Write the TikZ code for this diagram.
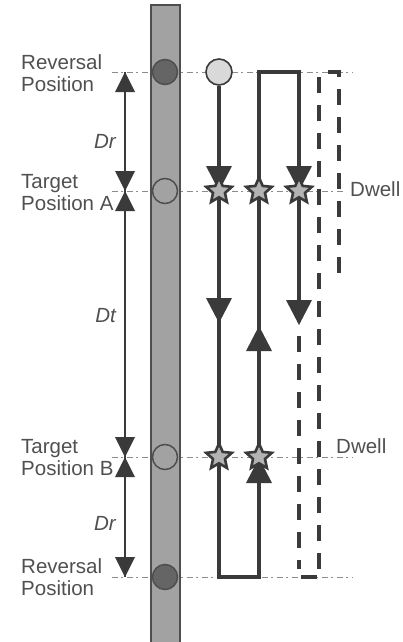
\documentclass[tikz,border=0pt]{standalone}
\usepackage{fontspec}
\setmainfont{Liberation Sans}
\usetikzlibrary{shapes.geometric}

\definecolor{ink}{HTML}{3A3A3A}
\definecolor{txt}{HTML}{505050}
\definecolor{barfill}{HTML}{A2A2A2}
\definecolor{barline}{HTML}{4E4E4E}
\definecolor{darkdot}{HTML}{656565}
\definecolor{lightdot}{HTML}{D9D9D9}
\definecolor{starfill}{HTML}{B3B3B3}
\definecolor{guide}{HTML}{8C8C8C}

\tikzset{
  % filled triangular heads, tip at the pic origin
  dimdown/.pic={\fill[ink] (-10,-20) -- (10,-20) -- (0,0) -- cycle;},
  dimup/.pic={\fill[ink] (-10,20) -- (10,20) -- (0,0) -- cycle;},
  flowdown/.pic={\fill[ink] (-13,-25) -- (13,-25) -- (0,0) -- cycle;},
  flowup/.pic={\fill[ink] (-13,25) -- (13,25) -- (0,0) -- cycle;},
}

\begin{document}
\begin{tikzpicture}[x=1pt,y=-1pt,
  lbl/.style={anchor=base west, text=txt, inner sep=0pt,
    font=\fontsize{20.5}{22}\selectfont},
  dimlbl/.style={anchor=base east, text=txt, inner sep=0pt,
    font=\fontsize{20.5}{22}\selectfont\itshape},
  guideline/.style={draw=guide, line width=0.8pt,
    dash pattern=on 6pt off 3pt on 2pt off 4pt},
  rodbar/.style={fill=barfill, draw=barline, line width=2.8pt},
  revdot/.style={circle, minimum size=25pt, inner sep=0pt,
    fill=darkdot, draw=barline, line width=1.5pt},
  tgtdot/.style={circle, minimum size=25pt, inner sep=0pt,
    fill=barfill, draw=barline, line width=1.5pt},
  startdot/.style={circle, minimum size=26pt, inner sep=0pt,
    fill=lightdot, draw=ink, line width=1.6pt},
  dwellstar/.style={star, star points=5, star point ratio=2.15,
    minimum size=27pt, inner sep=0pt, fill=starfill, draw=ink,
    line width=2.6pt},
  dimline/.style={draw=ink, line width=1.8pt},
  flow/.style={draw=ink, line width=3.3pt},
  flowdash/.style={draw=ink, line width=3.6pt, dash pattern=on 16pt off 12pt},
]
\useasboundingbox (0,0) rectangle (403,642);

% horizontal reference levels
\draw[guideline] (112,72) -- (353,72);
\draw[guideline] (112,191) -- (343,191);
\draw[guideline] (112,457) -- (353,457);
\draw[guideline] (112,577) -- (353,577);

% the rod
\draw[rodbar] (151,5) rectangle (180,660);
\node[revdot] (rodrevtop) at (165,72) {};
\node[tgtdot] (rodtgta) at (165,191) {};
\node[tgtdot] (rodtgtb) at (165,457) {};
\node[revdot] (rodrevbot) at (165,577) {};

% dimension line with its heads
\coordinate (dtop) at (125,72);
\coordinate (da) at (125,191);
\coordinate (db) at (125,457);
\coordinate (dbot) at (125,577);
\draw[dimline] (dtop) -- (dbot);
\pic at (dtop) {dimup};
\pic at (da) {dimdown};
\pic at (da) {dimup};
\pic at (db) {dimdown};
\pic at (db) {dimup};
\pic at (dbot) {dimdown};

% motion path
\node[startdot] (start) at (219,72) {};
\coordinate (c1b) at (219,577);
\coordinate (c2b) at (259,577);
\coordinate (c2t) at (259,72);
\coordinate (c3t) at (299,72);
\coordinate (c3m) at (299,322);
\draw[flow] (start.south) -- (c1b) -- (c2b) -- (c2t) -- (c3t) -- (c3m);

% continuation, dashed
\coordinate (c3d) at (299,336);
\coordinate (c3e) at (299,569);
\coordinate (c4s) at (301,577);
\coordinate (c4e) at (317,577);
\coordinate (c4b) at (319,569);
\coordinate (c4t) at (319,72);
\coordinate (c5s) at (328,72);
\coordinate (c5t) at (339,72);
\coordinate (c5e) at (339,282);
\draw[flowdash] (c3d) -- (c3e);
\draw[ink, line width=3.6pt] (c4s) -- (c4e);
\draw[flowdash] (c4b) -- (c4t);
\draw[flowdash] (c5s) -- (c5t) -- (c5e);

% direction heads on the path
\pic at (219,191) {flowdown};
\pic at (219,323) {flowdown};
\pic at (259,326) {flowup};
\pic at (259,458) {flowup};
\pic at (299,191) {flowdown};
\pic at (299,325) {flowdown};

% dwell stops
\node[dwellstar] (s1a) at (219,191) {};
\node[dwellstar] (s2a) at (259,191) {};
\node[dwellstar] (s3a) at (299,191) {};
\node[dwellstar] (s1b) at (219,457) {};
\node[dwellstar] (s2b) at (259,457) {};

% labels
\node[lbl] (rt1) at (21,70) {Reversal};
\node[lbl] (rt2) at (21,92) {Position};
\node[lbl] (ta1) at (21,188) {Target};
\node[lbl] (ta2) at (21,210) {Position A};
\node[lbl] (tb1) at (21,453) {Target};
\node[lbl] (tb2) at (21,475) {Position B};
\node[lbl] (rb1) at (21,573) {Reversal};
\node[lbl] (rb2) at (21,595) {Position};

\node[dimlbl] (drtop) at (116,148) {Dr};
\node[dimlbl] (dt) at (116,322) {Dt};
\node[dimlbl] (drbot) at (116,530) {Dr};

\node[lbl] (dwa) at (350,196) {Dwell};
\node[lbl] (dwb) at (336,453) {Dwell};
\end{tikzpicture}
\end{document}
